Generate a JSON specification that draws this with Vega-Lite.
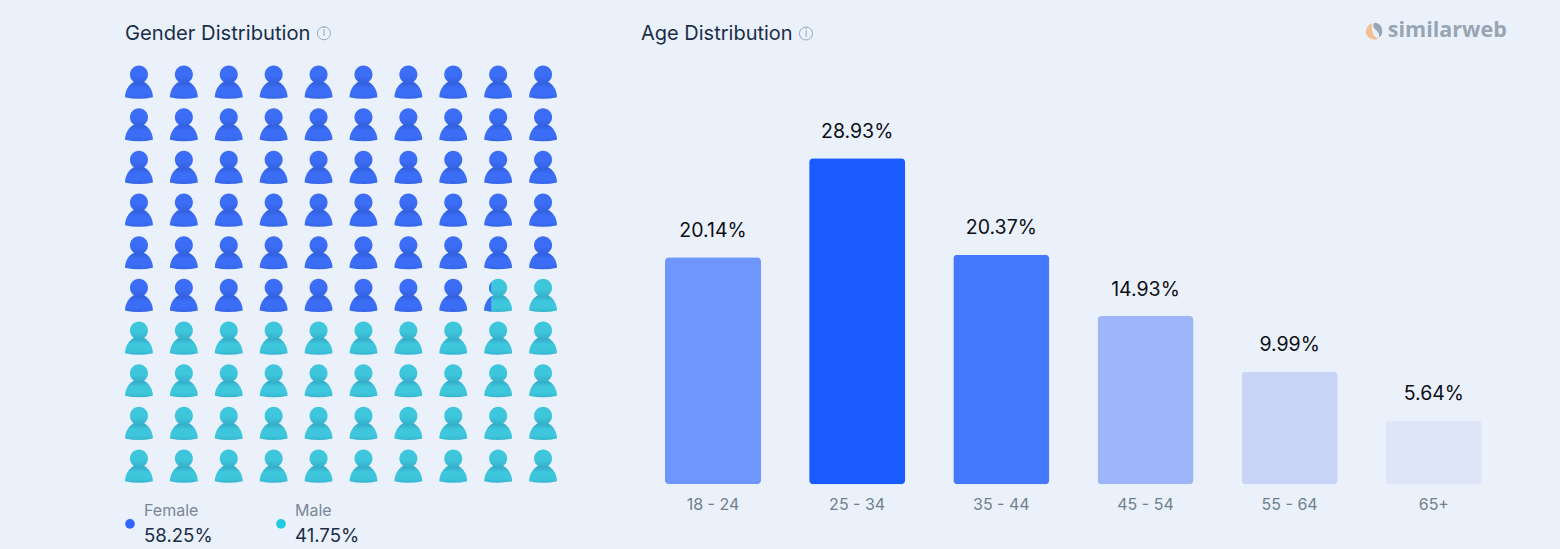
{
  "$schema": "https://vega.github.io/schema/vega-lite/v6.json",
  "background": "#EBF1FB",
  "padding": {"left": 116.5, "top": 20, "right": 54, "bottom": 0},
  "config": {
    "view": {"stroke": null},
    "font": "Inter"
  },
  "spacing": 75.4,
  "resolve": {"scale": {"color": "independent"}},
  "hconcat": [
    {
      "spacing": 0,
      "resolve": {"scale": {"color": "independent"}},
      "vconcat": [
        {
          "width": 449,
          "height": 426.7,
          "data": {
            "values": [
              {"col": 1, "row": 1, "gender": "Female", "part": "full"}, {"col": 2, "row": 1, "gender": "Female", "part": "full"}, {"col": 3, "row": 1, "gender": "Female", "part": "full"}, {"col": 4, "row": 1, "gender": "Female", "part": "full"}, {"col": 5, "row": 1, "gender": "Female", "part": "full"}, {"col": 6, "row": 1, "gender": "Female", "part": "full"}, {"col": 7, "row": 1, "gender": "Female", "part": "full"}, {"col": 8, "row": 1, "gender": "Female", "part": "full"}, {"col": 9, "row": 1, "gender": "Female", "part": "full"}, {"col": 10, "row": 1, "gender": "Female", "part": "full"},
              {"col": 1, "row": 2, "gender": "Female", "part": "full"}, {"col": 2, "row": 2, "gender": "Female", "part": "full"}, {"col": 3, "row": 2, "gender": "Female", "part": "full"}, {"col": 4, "row": 2, "gender": "Female", "part": "full"}, {"col": 5, "row": 2, "gender": "Female", "part": "full"}, {"col": 6, "row": 2, "gender": "Female", "part": "full"}, {"col": 7, "row": 2, "gender": "Female", "part": "full"}, {"col": 8, "row": 2, "gender": "Female", "part": "full"}, {"col": 9, "row": 2, "gender": "Female", "part": "full"}, {"col": 10, "row": 2, "gender": "Female", "part": "full"},
              {"col": 1, "row": 3, "gender": "Female", "part": "full"}, {"col": 2, "row": 3, "gender": "Female", "part": "full"}, {"col": 3, "row": 3, "gender": "Female", "part": "full"}, {"col": 4, "row": 3, "gender": "Female", "part": "full"}, {"col": 5, "row": 3, "gender": "Female", "part": "full"}, {"col": 6, "row": 3, "gender": "Female", "part": "full"}, {"col": 7, "row": 3, "gender": "Female", "part": "full"}, {"col": 8, "row": 3, "gender": "Female", "part": "full"}, {"col": 9, "row": 3, "gender": "Female", "part": "full"}, {"col": 10, "row": 3, "gender": "Female", "part": "full"},
              {"col": 1, "row": 4, "gender": "Female", "part": "full"}, {"col": 2, "row": 4, "gender": "Female", "part": "full"}, {"col": 3, "row": 4, "gender": "Female", "part": "full"}, {"col": 4, "row": 4, "gender": "Female", "part": "full"}, {"col": 5, "row": 4, "gender": "Female", "part": "full"}, {"col": 6, "row": 4, "gender": "Female", "part": "full"}, {"col": 7, "row": 4, "gender": "Female", "part": "full"}, {"col": 8, "row": 4, "gender": "Female", "part": "full"}, {"col": 9, "row": 4, "gender": "Female", "part": "full"}, {"col": 10, "row": 4, "gender": "Female", "part": "full"},
              {"col": 1, "row": 5, "gender": "Female", "part": "full"}, {"col": 2, "row": 5, "gender": "Female", "part": "full"}, {"col": 3, "row": 5, "gender": "Female", "part": "full"}, {"col": 4, "row": 5, "gender": "Female", "part": "full"}, {"col": 5, "row": 5, "gender": "Female", "part": "full"}, {"col": 6, "row": 5, "gender": "Female", "part": "full"}, {"col": 7, "row": 5, "gender": "Female", "part": "full"}, {"col": 8, "row": 5, "gender": "Female", "part": "full"}, {"col": 9, "row": 5, "gender": "Female", "part": "full"}, {"col": 10, "row": 5, "gender": "Female", "part": "full"},
              {"col": 1, "row": 6, "gender": "Female", "part": "full"}, {"col": 2, "row": 6, "gender": "Female", "part": "full"}, {"col": 3, "row": 6, "gender": "Female", "part": "full"}, {"col": 4, "row": 6, "gender": "Female", "part": "full"}, {"col": 5, "row": 6, "gender": "Female", "part": "full"}, {"col": 6, "row": 6, "gender": "Female", "part": "full"}, {"col": 7, "row": 6, "gender": "Female", "part": "full"}, {"col": 8, "row": 6, "gender": "Female", "part": "full"}, {"col": 9, "row": 6, "gender": "Male", "part": "full"}, {"col": 9, "row": 6, "gender": "Female", "part": "quarter"}, {"col": 10, "row": 6, "gender": "Male", "part": "full"},
              {"col": 1, "row": 7, "gender": "Male", "part": "full"}, {"col": 2, "row": 7, "gender": "Male", "part": "full"}, {"col": 3, "row": 7, "gender": "Male", "part": "full"}, {"col": 4, "row": 7, "gender": "Male", "part": "full"}, {"col": 5, "row": 7, "gender": "Male", "part": "full"}, {"col": 6, "row": 7, "gender": "Male", "part": "full"}, {"col": 7, "row": 7, "gender": "Male", "part": "full"}, {"col": 8, "row": 7, "gender": "Male", "part": "full"}, {"col": 9, "row": 7, "gender": "Male", "part": "full"}, {"col": 10, "row": 7, "gender": "Male", "part": "full"},
              {"col": 1, "row": 8, "gender": "Male", "part": "full"}, {"col": 2, "row": 8, "gender": "Male", "part": "full"}, {"col": 3, "row": 8, "gender": "Male", "part": "full"}, {"col": 4, "row": 8, "gender": "Male", "part": "full"}, {"col": 5, "row": 8, "gender": "Male", "part": "full"}, {"col": 6, "row": 8, "gender": "Male", "part": "full"}, {"col": 7, "row": 8, "gender": "Male", "part": "full"}, {"col": 8, "row": 8, "gender": "Male", "part": "full"}, {"col": 9, "row": 8, "gender": "Male", "part": "full"}, {"col": 10, "row": 8, "gender": "Male", "part": "full"},
              {"col": 1, "row": 9, "gender": "Male", "part": "full"}, {"col": 2, "row": 9, "gender": "Male", "part": "full"}, {"col": 3, "row": 9, "gender": "Male", "part": "full"}, {"col": 4, "row": 9, "gender": "Male", "part": "full"}, {"col": 5, "row": 9, "gender": "Male", "part": "full"}, {"col": 6, "row": 9, "gender": "Male", "part": "full"}, {"col": 7, "row": 9, "gender": "Male", "part": "full"}, {"col": 8, "row": 9, "gender": "Male", "part": "full"}, {"col": 9, "row": 9, "gender": "Male", "part": "full"}, {"col": 10, "row": 9, "gender": "Male", "part": "full"},
              {"col": 1, "row": 10, "gender": "Male", "part": "full"}, {"col": 2, "row": 10, "gender": "Male", "part": "full"}, {"col": 3, "row": 10, "gender": "Male", "part": "full"}, {"col": 4, "row": 10, "gender": "Male", "part": "full"}, {"col": 5, "row": 10, "gender": "Male", "part": "full"}, {"col": 6, "row": 10, "gender": "Male", "part": "full"}, {"col": 7, "row": 10, "gender": "Male", "part": "full"}, {"col": 8, "row": 10, "gender": "Male", "part": "full"}, {"col": 9, "row": 10, "gender": "Male", "part": "full"}, {"col": 10, "row": 10, "gender": "Male", "part": "full"}
            ]
          },
          "encoding": {
            "x": {"field": "col", "type": "quantitative", "scale": {"domain": [0.5, 10.5]}, "axis": null},
            "y": {"field": "row", "type": "quantitative", "scale": {"domain": [0.5, 10.5], "reverse": true}, "axis": null}
          },
          "layer": [
            {
              "transform": [{"filter": "datum.part == 'full'"}],
              "mark": {"type": "point", "filled": true, "opacity": 1, "size": 1156, "shape": "M-0.82,0.87 C-0.82,0.35 -0.45,-0.08 0,-0.08 C0.45,-0.08 0.82,0.35 0.82,0.87 Q0,1.05 -0.82,0.87 Z"},
              "encoding": {
                "color": {"field": "gender", "type": "nominal", "scale": {"domain": ["Female", "Male"], "range": ["#3B6DF6", "#3EC7DC"]}, "legend": null}
              }
            },
            {
              "transform": [{"filter": "datum.part == 'full'"}],
              "mark": {
                "type": "point", "filled": true, "opacity": 1, "size": 1156,
                "shape": "M-0.82,0.87 C-0.82,0.35 -0.45,-0.08 0,-0.08 C0.45,-0.08 0.82,0.35 0.82,0.87 Q0,1.05 -0.82,0.87 Z",
                "color": {"gradient": "linear", "x1": 0, "y1": 0, "x2": 0, "y2": 1, "stops": [{"offset": 0, "color": "rgba(0,30,90,0.22)"}, {"offset": 0.4, "color": "rgba(0,30,90,0)"}, {"offset": 0.75, "color": "rgba(0,30,90,0)"}, {"offset": 1, "color": "rgba(0,30,90,0.1)"}]}
              }
            },
            {
              "transform": [{"filter": "datum.part == 'full'"}],
              "mark": {"type": "point", "filled": true, "opacity": 1, "size": 1156, "shape": "M-0.53,-0.46 A0.53,0.53 0 1,1 0.53,-0.46 A0.53,0.53 0 1,1 -0.53,-0.46 Z"},
              "encoding": {
                "color": {"field": "gender", "type": "nominal", "scale": {"domain": ["Female", "Male"], "range": ["#3B6DF6", "#3EC7DC"]}, "legend": null}
              }
            },
            {
              "transform": [{"filter": "datum.part == 'full'"}],
              "mark": {
                "type": "point", "filled": true, "opacity": 1, "size": 1156,
                "shape": "M-0.53,-0.46 A0.53,0.53 0 1,1 0.53,-0.46 A0.53,0.53 0 1,1 -0.53,-0.46 Z",
                "color": {"gradient": "linear", "x1": 0, "y1": 0, "x2": 0, "y2": 1, "stops": [{"offset": 0.55, "color": "rgba(0,30,90,0)"}, {"offset": 1, "color": "rgba(0,30,90,0.14)"}]}
              }
            },
            {
              "transform": [{"filter": "datum.part == 'quarter'"}],
              "mark": {"type": "point", "filled": true, "opacity": 1, "size": 1156, "shape": "M-0.41,-0.796 A0.53,0.53 0 0,0 -0.41,-0.124 Z M-0.82,0.87 C-0.82,0.55 -0.65,0.2 -0.41,0.05 L-0.41,0.94 Z"},
              "encoding": {
                "color": {"field": "gender", "type": "nominal", "scale": {"domain": ["Female", "Male"], "range": ["#3B6DF6", "#3EC7DC"]}, "legend": null}
              }
            },
            {
              "data": {"values": [{"label": "Gender Distribution", "col": 0.688, "row": -0.13}]},
              "mark": {"type": "text", "align": "left", "baseline": "middle", "fontSize": 20.2, "color": "#1B2E47"},
              "encoding": {"text": {"field": "label"}}
            },
            {
              "data": {"values": [{"info": "i", "col": 5.12, "row": -0.15}]},
              "mark": {"type": "point", "filled": false, "opacity": 1, "size": 170, "stroke": "#9BA8B6", "strokeWidth": 1}
            },
            {
              "data": {"values": [{"info": "i", "col": 5.12, "row": -0.15}]},
              "mark": {"type": "text", "fontSize": 11, "color": "#9BA8B6", "baseline": "middle"},
              "encoding": {"text": {"field": "info"}}
            }
          ]
        },
        {
          "width": 302,
          "height": 61.7,
          "data": {
            "values": [
              {"gender": "Female", "share": "58.25%"},
              {"gender": "Male", "share": "41.75%"}
            ]
          },
          "encoding": {
            "x": {"field": "gender", "type": "nominal", "bandPosition": 0, "sort": null, "scale": {"type": "band", "padding": 0}, "axis": null}
          },
          "layer": [
            {
              "mark": {"type": "point", "filled": true, "opacity": 1, "size": 95, "xOffset": 13.5, "yOffset": 5},
              "encoding": {
                "color": {"field": "gender", "type": "nominal", "scale": {"domain": ["Female", "Male"], "range": ["#3366FF", "#1ECBE1"]}, "legend": null}
              }
            },
            {
              "mark": {"type": "text", "align": "left", "baseline": "middle", "dx": 27.5, "dy": -8, "fontSize": 16, "color": "#7A8797"},
              "encoding": {"text": {"field": "gender"}}
            },
            {
              "mark": {"type": "text", "align": "left", "baseline": "middle", "dx": 27.5, "dy": 17, "fontSize": 18.6, "color": "#1B2E47"},
              "encoding": {"text": {"field": "share"}}
            }
          ]
        }
      ]
    },
    {
      "width": 865,
      "height": 423.3,
      "data": {
        "values": [
          {"age": "18 - 24", "share": 0.2014},
          {"age": "25 - 34", "share": 0.2893},
          {"age": "35 - 44", "share": 0.2037},
          {"age": "45 - 54", "share": 0.1493},
          {"age": "55 - 64", "share": 0.0999},
          {"age": "65+", "share": 0.0564}
        ]
      },
      "encoding": {
        "x": {
          "field": "age", "type": "nominal", "sort": null,
          "scale": {"domain": ["18 - 24", "25 - 34", "35 - 44", "45 - 54", "55 - 64", "65+"], "paddingInner": 0.334, "paddingOuter": 0.167},
          "axis": {"title": null, "labelAngle": 0, "domain": false, "ticks": false, "labelFontSize": 16, "labelColor": "#6F7F8C", "labelPadding": 12, "labelFont": "Inter"}
        },
        "y": {"field": "share", "type": "quantitative", "scale": {"domain": [0, 0.3756]}, "axis": null}
      },
      "layer": [
        {
          "mark": {"type": "bar", "cornerRadius": 4},
          "encoding": {
            "color": {"field": "age", "type": "nominal", "sort": null, "scale": {"domain": ["18 - 24", "25 - 34", "35 - 44", "45 - 54", "55 - 64", "65+"], "range": ["#6F96FC", "#1A5BFF", "#4479FF", "#9DB6F9", "#C8D4F7", "#DFE5F8"]}, "legend": null}
          }
        },
        {
          "mark": {"type": "text", "baseline": "middle", "dy": -26.5, "fontSize": 19.5, "color": "#0B0F14"},
          "encoding": {"text": {"field": "share", "type": "quantitative", "format": ".2%"}}
        },
        {
          "data": {"values": [{"label": "Age Distribution", "age": "18 - 24", "share": 0.4}]},
          "mark": {"type": "text", "align": "left", "baseline": "middle", "fontSize": 20, "color": "#1B2E47", "dx": -72},
          "encoding": {"text": {"field": "label"}}
        },
        {
          "data": {"values": [{"info": "i", "age": "18 - 24", "share": 0.4}]},
          "mark": {"type": "point", "filled": false, "opacity": 1, "size": 170, "stroke": "#9BA8B6", "strokeWidth": 1, "xOffset": 93}
        },
        {
          "data": {"values": [{"info": "i", "age": "18 - 24", "share": 0.4}]},
          "mark": {"type": "text", "fontSize": 11, "color": "#9BA8B6", "baseline": "middle", "dx": 93},
          "encoding": {"text": {"field": "info"}}
        },
        {
          "data": {"values": [{"brand": "similarweb", "age": "65+", "share": 0.402}]},
          "mark": {"type": "text", "font": "Open Sans", "fontWeight": 700, "fontSize": 21.5, "color": "#98A5B3", "align": "right", "baseline": "middle", "dx": 73},
          "encoding": {"text": {"field": "brand"}}
        },
        {
          "data": {"values": [{"brand": "similarweb", "age": "65+", "share": 0.402}]},
          "mark": {"type": "point", "filled": true, "opacity": 1, "size": 289, "color": "#F3BE91", "xOffset": -60, "shape": "M-0.2,-0.95 C-0.9,-0.7 -1.1,0.1 -0.8,0.5 C-0.5,1 0.3,1.1 0.5,0.85 C0.2,0.7 -0.4,0.4 -0.2,-0.95 Z"}
        },
        {
          "data": {"values": [{"brand": "similarweb", "age": "65+", "share": 0.402}]},
          "mark": {"type": "point", "filled": true, "opacity": 1, "size": 289, "color": "#98A5B3", "xOffset": -60, "shape": "M0.1,-1 C0.7,-1 1,-0.5 1,0 C1,0.4 0.8,0.6 0.6,0.7 C0.7,0.2 0.4,0 0.1,-0.3 C-0.1,-0.5 -0.1,-0.9 0.1,-1 Z"}
        }
      ]
    }
  ]
}
